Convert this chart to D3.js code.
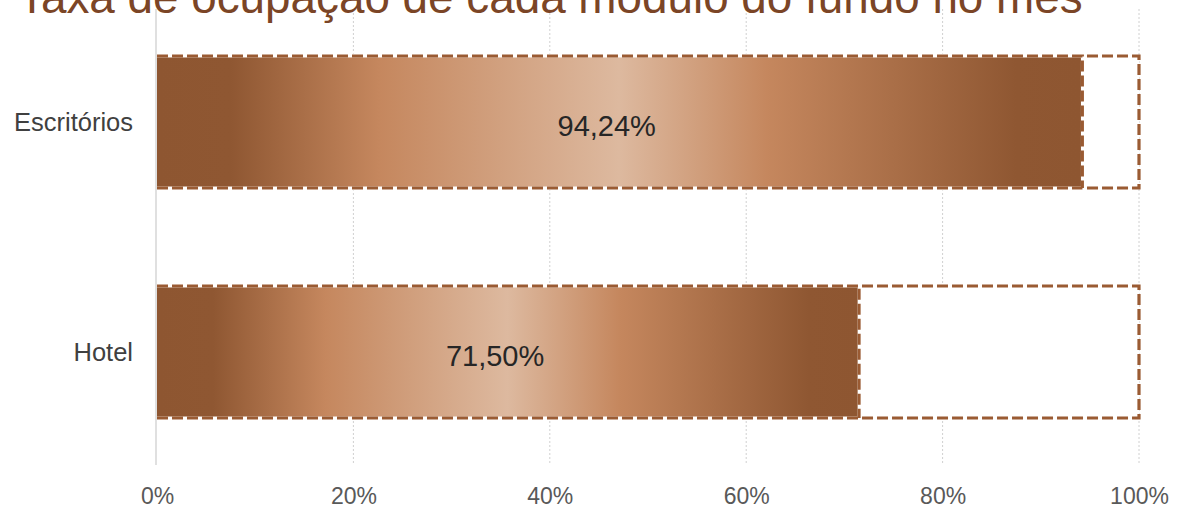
<!DOCTYPE html>
<html>
<head>
<meta charset="utf-8">
<script src="https://cdn.jsdelivr.net/npm/d3@7"></script>
<style>
  html, body { margin: 0; padding: 0; background: #fff; }
  svg { display: block; font-family: "Liberation Sans", Arial, sans-serif; }
</style>
</head>
<body>
<div id="chart"></div>
<script>
(function(){
    // dados
    const title = 'Taxa de ocupação de cada módulo do fundo no mês';
    const categories = ['Escritórios', 'Hotel'];
    const values = [94.24, 71.50];
    const capacity = [100, 100];
    const ticks = [0, 20, 40, 60, 80, 100];

    const W = 1186, H = 512;
    const brown = '#9a5b33';

    const svg = d3.select('#chart').append('svg')
        .attr('width', W).attr('height', H);

    const defs = svg.append('defs');
    const grad = defs.append('linearGradient')
        .attr('id', 'copper')
        .attr('x1', '0%').attr('x2', '100%')
        .attr('y1', '0%').attr('y2', '0%');
    [[0, '#8e5631'], [0.08, '#8f5732'], [0.24, '#c5875e'],
     [0.5, '#ddb99f'], [0.66, '#c5875e'], [0.93, '#8f5732'], [1, '#8e5631']]
        .forEach(s => grad.append('stop').attr('offset', s[0]).attr('stop-color', s[1]));

    const x = d3.scaleLinear().domain([0, 100]).range([157, 1139]);
    const y = d3.scaleBand().domain(categories).range([7, 467])
        .paddingInner(0.426).paddingOuter(0.213);

    // grade
    svg.append('g').selectAll('line')
        .data(ticks.filter(t => t > 0))
        .enter().append('line')
        .attr('x1', d => x(d)).attr('x2', d => x(d))
        .attr('y1', 9).attr('y2', 465)
        .attr('stroke', '#d0d0d0').attr('stroke-width', 1)
        .attr('stroke-dasharray', '2,2');

    // eixo x
    const xAxis = svg.append('g')
        .attr('transform', 'translate(0,481)')
        .call(d3.axisBottom(x).tickValues(ticks).tickSize(0).tickPadding(0)
            .tickFormat(d => d + '%'));
    xAxis.select('.domain').remove();
    xAxis.selectAll('text')
        .attr('dy', null).attr('y', 23)
        .attr('font-size', 23).attr('fill', '#595959')
        .attr('font-family', '"Liberation Sans", Arial, sans-serif');

    const rows = categories.map((c, i) => ({cat: c, v: values[i], cap: capacity[i]}));
    const bh = y.bandwidth();
    const dash = '11,4';

    const g = svg.append('g').selectAll('g').data(rows).enter().append('g');

    // capacidade (100%)
    g.append('rect')
        .attr('x', x(0)).attr('y', d => y(d.cat))
        .attr('width', d => x(d.cap) - x(0)).attr('height', bh)
        .attr('fill', '#fff').attr('stroke', brown).attr('stroke-width', 3.2)
        .attr('stroke-dasharray', dash);
    g.append('rect')
        .attr('x', x(0) - 3).attr('y', d => y(d.cat) - 2.5)
        .attr('width', d => x(d.v) - x(0) + 5).attr('height', bh + 5)
        .attr('fill', '#fff');

    // ocupação
    g.append('rect')
        .attr('x', x(0)).attr('y', d => y(d.cat) + 1.5)
        .attr('width', d => x(d.v) - x(0) - 1.5).attr('height', bh - 3)
        .attr('fill', 'url(#copper)');
    g.append('path')
        .attr('d', d => {
            const x0 = x(0), x1 = x(d.v), y0 = y(d.cat), y1 = y0 + bh;
            return `M${x0},${y0}H${x1}V${y1}M${x0},${y1}H${x1}`;
        })
        .attr('fill', 'none').attr('stroke', brown).attr('stroke-width', 3)
        .attr('stroke-dasharray', dash);

    // linha do eixo vertical
    svg.append('line')
        .attr('x1', x(0) - 1).attr('x2', x(0) - 1)
        .attr('y1', 9).attr('y2', 465)
        .attr('stroke', '#d6d6d6').attr('stroke-width', 1.5);

    // rótulos de valor
    g.append('text')
        .attr('x', d => (x(0) + x(d.v)) / 2 - 13)
        .attr('y', d => y(d.cat) + bh / 2 + 14)
        .attr('text-anchor', 'middle')
        .attr('font-size', 29).attr('fill', '#262626')
        .text(d => d3.format('.2f')(d.v).replace('.', ',') + '%');

    // categorias
    g.append('text')
        .attr('x', 133)
        .attr('y', d => y(d.cat) + bh / 2 + 9)
        .attr('text-anchor', 'end')
        .attr('font-size', 25.5).attr('fill', '#404040')
        .text(d => d.cat);

    // título
    const t = svg.append('text')
        .attr('x', 18).attr('y', 13)
        .attr('font-size', 40).attr('fill', '#7b4526')
        .text(title);
    const len = t.node().getComputedTextLength();
    t.attr('font-size', 40 * 1065 / len);
})();
</script>
</body>
</html>
